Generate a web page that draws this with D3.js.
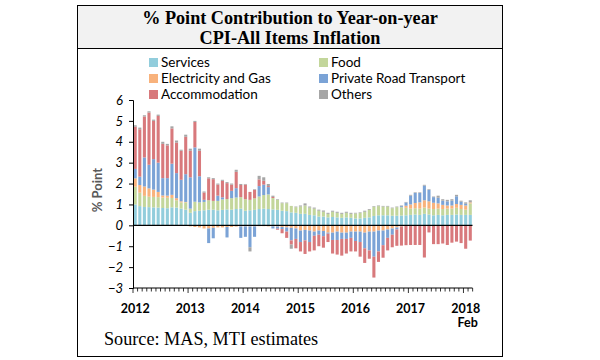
<!DOCTYPE html>
<html><head><meta charset="utf-8">
<script src="https://cdn.jsdelivr.net/npm/d3@7"></script>
<style>body{margin:0;background:#fff}</style>
</head><body><div id="chart"></div>
<script>
const seriesNames = ["Services","Food","Electricity and Gas","Private Road Transport","Accommodation","Others"];
const seriesColors = ["#92cddc","#c3d69b","#f8b27c","#7ba3d6","#d8797c","#a6a6a6"];
const months = d3.timeMonth.range(new Date(2012,0,1), new Date(2018,2,1));
const yearLabels = ["2012","2013","2014","2015","2016","2017","2018"];
const yTicks = [-3,-2,-1,0,1,2,3,4,5,6];

const services = [
1.0,0.92,0.88,0.87,0.86,0.85,0.83,0.82,0.86,0.85,0.8,0.75,
0.6,0.68,0.7,0.72,0.75,0.75,0.72,0.74,0.76,0.75,0.78,0.8,
0.7,0.72,0.74,0.78,0.8,0.78,0.76,0.74,0.7,0.68,0.62,0.6,
0.55,0.55,0.5,0.48,0.42,0.42,0.38,0.4,0.38,0.36,0.38,0.36,
0.33,0.33,0.36,0.38,0.45,0.48,0.48,0.48,0.46,0.46,0.47,0.48,
0.5,0.52,0.5,0.55,0.52,0.48,0.5,0.48,0.5,0.5,0.52,0.5,
0.5,0.5];
const food = [
0.85,0.64,0.53,0.5,0.5,0.5,0.5,0.5,0.45,0.35,0.3,0.35,
0.2,0.45,0.4,0.4,0.45,0.42,0.45,0.5,0.5,0.55,0.55,0.55,
0.55,0.5,0.55,0.6,0.65,0.7,0.55,0.48,0.36,0.38,0.31,0.27,
0.35,0.4,0.35,0.32,0.28,0.23,0.17,0.25,0.22,0.19,0.22,0.19,
0.24,0.26,0.29,0.36,0.44,0.44,0.42,0.42,0.36,0.41,0.4,0.36,
0.3,0.3,0.3,0.3,0.28,0.3,0.3,0.3,0.3,0.3,0.32,0.28,
0.25,0.55];
const electricity = [
0.4,0.37,0.45,0.4,0.35,0.25,0.1,0.1,0.15,0.1,0.05,0.02,
-0.05,-0.08,-0.1,-0.15,-0.15,-0.12,-0.1,-0.1,-0.08,-0.08,-0.06,-0.05,
-0.05,-0.05,-0.05,-0.04,-0.04,-0.05,-0.05,-0.06,-0.08,-0.1,-0.12,-0.15,
-0.25,-0.22,-0.25,-0.3,-0.25,-0.27,-0.35,-0.35,-0.3,-0.35,-0.35,-0.3,
-0.3,-0.3,-0.35,-0.3,-0.3,-0.25,-0.25,-0.2,-0.15,-0.1,-0.05,0.1,
0.2,0.25,0.3,0.35,0.35,0.3,0.25,0.2,0.15,0.15,0.18,0.2,
0.2,0.05];
const privateRoad = [
0.45,0.4,1.39,1.13,1.46,1.4,0.83,0.84,1.49,1.2,1.03,1.33,
1.5,2.6,1.25,0.1,-0.7,-0.5,0.25,0.1,-0.5,0.35,0.45,-0.55,
-0.5,-1.0,-0.5,0.5,0.5,0.35,-0.1,-0.1,-0.1,-0.2,-0.6,-0.5,
-0.55,-0.5,-0.55,-0.2,-0.2,-0.25,-0.05,-0.35,-0.4,-0.3,-0.3,-0.3,
-0.45,-0.5,-0.75,-0.9,-1.2,-1.0,-0.7,-0.4,-0.3,-0.1,0.05,0.15,
0.42,0.48,0.45,0.7,0.55,0.27,0.27,0.2,0.2,0.23,0.37,0.15,
0.08,0.0];
const accommodation = [
2.02,2.27,1.96,2.5,1.83,2.24,1.64,1.57,1.69,1.46,1.39,1.79,
1.27,1.22,1.22,0.35,1.05,1.04,0.53,0.79,0.76,0.3,0.78,0.58,
0.7,0.38,0.41,0.32,0.18,0.05,0.05,-0.05,-0.2,-0.3,-0.2,-0.45,
-0.45,-0.65,-0.45,-0.7,-0.55,-0.55,-0.4,-0.65,-0.7,-0.8,-0.7,-0.65,
-0.5,-0.7,-0.7,-0.4,-1.0,-0.5,-0.6,-0.6,-0.6,-0.78,-0.92,-0.95,
-0.94,-0.94,-0.94,-1.54,-0.34,-0.9,-0.9,-0.87,-0.94,-0.83,-0.78,-0.85,
-1.12,-0.73];
const others = [
0.07,0.08,0.06,0.06,0.06,0.06,0.1,0.07,0.1,0.1,0.05,0.1,
0.1,0.05,0.1,0.05,0.05,0.05,0.05,0.05,0.05,0.05,0.1,0.05,
0.03,-0.2,0.03,0.17,0.17,0.1,0.06,0.03,0.03,0.03,-0.2,0.03,
0.05,0.1,0.05,0.05,0.05,0.06,0.05,0.05,0.05,0.05,0.05,0.05,
0.03,0.03,0.05,0.04,0.03,0.03,0.03,0.03,0.03,0.03,0.03,0.03,
0.04,0.03,0.03,0.04,0.03,0.03,0.1,0.07,0.07,0.07,0.07,0.05,
0.07,0.1];

const seriesValues = [services, food, electricity, privateRoad, accommodation, others];
const rows = months.map((m,i) => {
  const r = {i, date:m};
  seriesNames.forEach((n,k) => r[n] = seriesValues[k][i]);
  return r;
});

const W = 600, H = 360;
const svg = d3.select("#chart").append("svg").attr("width",W).attr("height",H);

// frame
svg.append("rect").attr("x",77.5).attr("y",5.5).attr("width",425).attr("height",351)
  .attr("fill","#fff").attr("stroke","#000").attr("stroke-width",1);
svg.append("rect").attr("x",78).attr("y",6).attr("width",424).attr("height",42.5).attr("fill","#f2f2f2");
svg.append("line").attr("x1",77.5).attr("x2",502.5).attr("y1",48.5).attr("y2",48.5).attr("stroke","#000");

const titleFont = "'Liberation Serif', 'Times New Roman', serif";
svg.append("text").attr("text-anchor","middle").attr("x",290).attr("y",23.5)
  .attr("font-family",titleFont).attr("font-weight","bold").attr("font-size",18.2)
  .text("% Point Contribution to Year-on-year");
svg.append("text").attr("text-anchor","middle").attr("x",290).attr("y",43.5)
  .attr("font-family",titleFont).attr("font-weight","bold").attr("font-size",18.2)
  .text("CPI-All Items Inflation");

// legend
const legFont = "Lato, 'Open Sans', sans-serif";
const legPos = [[149,58],[319,58],[149,74],[319,74],[149,90],[319,90]];
seriesNames.forEach((n,k) => {
  const g = svg.append("g").attr("transform",`translate(${legPos[k][0]},${legPos[k][1]})`);
  g.append("rect").attr("width",9).attr("height",9).attr("fill",seriesColors[k]);
  g.append("text").attr("x",12).attr("y",8.5).attr("font-family",legFont).attr("font-size",13.5).attr("fill","#000").text(n);
});

const x = d3.scaleBand().domain(d3.range(months.length)).range([133,472.5]).paddingInner(0.33).paddingOuter(0.15);
const y = d3.scaleLinear().domain([-3,6]).range([288,100]);

const stack = d3.stack().keys(seriesNames).offset(d3.stackOffsetDiverging);
const layers = stack(rows);

svg.append("g").selectAll("g").data(layers).join("g")
  .attr("fill",(d,k)=>seriesColors[k])
  .selectAll("rect").data(d=>d).join("rect")
  .attr("x",d=>x(d.data.i)).attr("width",x.bandwidth())
  .attr("y",d=>y(Math.max(d[0],d[1]))).attr("height",d=>Math.abs(y(d[0])-y(d[1])));

// zero line
svg.append("line").attr("x1",133).attr("x2",472.5).attr("y1",y(0)).attr("y2",y(0)).attr("stroke","#000").attr("stroke-width",1.2);

// y axis
const yAxis = svg.append("g").attr("transform","translate(133,0)")
  .call(d3.axisLeft(y).tickValues(yTicks).tickSize(4).tickPadding(6).tickFormat(d3.format("d")));
yAxis.select(".domain").attr("stroke","#000");
yAxis.selectAll("text").attr("font-family",legFont).attr("font-style","italic").attr("font-size",13).attr("fill","#000");

// x axis with monthly ticks at bottom
const bottom = y(-3);
svg.append("line").attr("x1",133).attr("x2",472.5).attr("y1",bottom).attr("y2",bottom).attr("stroke","#000");
const step = x.step();
svg.append("g").selectAll("line").data(d3.range(months.length+1)).join("line")
  .attr("x1",i=>133+i*step).attr("x2",i=>133+i*step)
  .attr("y1",bottom).attr("y2",i=> i%12===0 ? bottom+5 : bottom+3.5)
  .attr("stroke","#000").attr("stroke-width",0.8);

svg.append("g").selectAll("text").data(yearLabels).join("text")
  .attr("x",(d,k)=>x(k*12)+x.bandwidth()/2).attr("y",313)
  .attr("text-anchor","middle").attr("font-family",legFont).attr("font-weight","bold").attr("font-size",12.5)
  .text(d=>d);
svg.append("text").attr("x",x(72)+x.bandwidth()/2+2).attr("y",327).attr("text-anchor","middle")
  .attr("font-family",legFont).attr("font-weight","bold").attr("font-size",12.5).text("Feb");

// y title
svg.append("text").attr("transform","translate(102,190) rotate(-90)").attr("text-anchor","middle")
  .attr("font-family",legFont).attr("font-weight","bold").attr("font-size",13).attr("fill","#595959").text("% Point");

// source
svg.append("text").attr("x",104).attr("y",345).attr("font-family",titleFont)
  .attr("font-size",18.2).text("Source: MAS, MTI estimates");
</script></body></html>
